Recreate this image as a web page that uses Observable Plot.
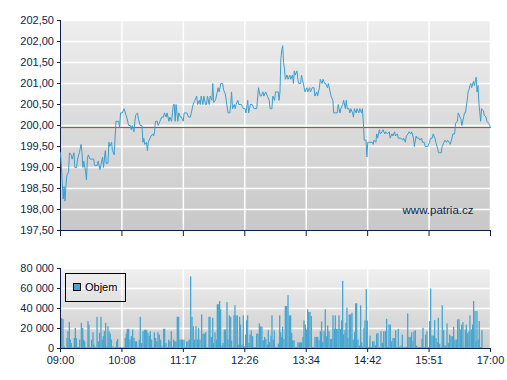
<!DOCTYPE html>
<html><head><meta charset="utf-8">
<script src="https://cdn.jsdelivr.net/npm/d3@7"></script>
<script src="https://cdn.jsdelivr.net/npm/@observablehq/plot@0.6"></script>
<style>
html,body{margin:0;padding:0;background:#fff;}
#wrap{position:relative;width:507px;height:380px;overflow:hidden;font-family:"Liberation Sans",Arial,sans-serif;}
#price{position:absolute;left:0;top:0;}
#vol{position:absolute;left:0;top:240px;}
#legend{position:absolute;left:65px;top:273px;width:61px;height:29px;border:1px solid #000;box-sizing:border-box;}
#legend .sw{position:absolute;left:7px;top:9px;width:8px;height:8px;background:#46a6d0;border:1px solid #000;box-sizing:border-box;}
#legend .lb{position:absolute;left:19px;top:7px;font-size:11px;line-height:13px;color:#000;}
</style></head>
<body><div id="wrap"><div id="price"></div><div id="vol"></div>
<div id="legend"><div class="sw"></div><div class="lb" id="legendLabel"></div></div></div>
<script>
// ---- data ----
const timeLabels = ["09:00","10:08","11:17","12:26","13:34","14:42","15:51","17:00"];
const priceTicks = [197.5,198,198.5,199,199.5,200,200.5,201,201.5,202,202.5];
const volTicks = [0,20000,40000,60000,80000];
const prevClose = 199.95;
const siteLabel = "www.patria.cz";
const legendLabel = "Objem";
// minutes after 09:00
const priceMin = [0,2,3,4,5,6,7,9,10,12,13,15,16,18,19,21,23,24,25,26,28,29,30,31,33,35,37,38,41,42,44,45,47,48,50,51,53,54,55,57,58,60,61,62,65,66,67,69,71,73,74,76,78,79,80,82,83,84,86,87,89,91,92,93,94,96,97,98,100,101,103,104,105,106,108,109,111,113,115,116,118,119,121,122,124,125,126,127,128,129,131,132,134,135,137,138,141,143,145,147,148,150,152,153,155,156,157,159,160,
162,163,164,166,167,169,170,171,173,174,176,177,178,179,181,182,184,185,187,189,190,191,192,194,195,196,198,199,202,204,206,207,209,210,212,214,216,219,221,223,224,226,227,229,231,233,234,236,237,239,240,243,244,245,246,247,248,249,250,251,253,254,256,257,259,260,261,262,264,265,266,268,269,270,272,273,275,276,278,279,281,283,284,286,287,289,290,292,293,295,296,298,299,301,302,304,305,307,309,310,312,313,315,316,318,319,320,
322,323,324,326,327,328,330,331,333,334,336,337,338,339,341,342,343,345,348,349,350,352,353,354,356,357,359,360,362,363,365,367,368,370,371,373,374,376,377,379,380,382,383,385,386,388,389,391,392,394,395,397,398,400,401,403,404,406,407,409,410,412,413,415,416,418,419,421,422,423,425,426,428,429,431,432,434,435,437,438,440,441,443,444,446,447,448,450,451,452,454,455,456,457,458,459,461,462,463,464,465,466,467,469,470,472,473,475,476,478,479,480];
const priceVal = [199.35,198.65,198.25,198.55,198.2,198.55,198.8,198.9,199.35,199.3,199.2,199.35,199.0,199.0,199.2,199.35,199.55,199.35,199.0,199.15,198.9,198.7,199.2,199.3,199.2,199.2,199.2,199.05,199.05,199.15,198.95,199.05,199.25,199.0,199.4,199.1,199.1,199.6,199.5,199.6,199.4,199.3,199.75,200.1,200.1,199.95,200.3,200.3,200.4,200.25,200.2,200.0,200.0,199.9,200.0,199.85,200.1,200.25,200.3,200.15,200.0,200.0,199.6,199.7,199.55,199.6,199.4,199.6,199.7,199.75,199.8,199.75,199.85,200.1,200.1,200.0,200.1,200.2,200.2,200.3,200.2,200.3,200.1,200.2,200.1,200.3,200.5,200.5,200.1,200.5,200.1,200.3,200.2,200.2,200.1,200.3,200.3,200.2,200.2,200.4,200.5,200.6,200.7,200.5,200.6,200.5,200.7,200.5,200.7,
200.5,200.5,200.7,200.5,200.7,200.6,201.0,200.55,200.6,200.7,200.9,200.8,200.9,201.0,201.0,200.85,200.75,200.6,200.3,200.3,200.5,200.8,200.4,200.5,200.4,200.5,200.6,200.5,200.5,200.4,200.4,200.3,200.6,200.3,200.5,200.5,200.4,200.4,200.9,200.7,200.7,200.8,200.7,200.8,200.7,200.6,200.4,200.4,200.7,200.6,200.8,200.8,200.6,200.8,201.6,201.8,201.9,201.5,201.35,201.1,201.2,201.1,201.2,201.1,201.2,201.0,201.3,201.2,201.3,201.1,201.0,201.0,201.2,201.1,200.9,200.8,200.9,200.8,200.9,200.8,200.9,200.9,200.7,200.8,200.7,200.9,201.1,201.0,201.1,201.0,201.0,200.9,201.0,200.8,200.7,200.6,200.3,200.3,200.3,200.5,200.3,200.4,200.5,200.6,200.4,200.6,200.4,
200.4,200.3,200.4,200.3,200.2,200.4,200.3,200.4,200.3,200.4,200.3,200.4,200.1,199.65,199.65,199.25,199.6,199.6,199.6,199.55,199.65,199.6,199.8,199.7,199.9,199.8,199.85,199.9,199.8,199.85,199.8,199.85,199.7,199.8,199.75,199.85,199.75,199.8,199.7,199.7,199.7,199.65,199.7,199.6,199.75,199.8,199.85,199.8,199.85,199.7,199.5,199.75,199.7,199.7,199.65,199.7,199.6,199.6,199.5,199.5,199.5,199.6,199.7,199.7,199.8,199.7,199.6,199.45,199.35,199.35,199.35,199.5,199.6,199.65,199.6,199.65,199.6,199.55,199.7,199.8,199.8,200.05,200.1,200.3,200.2,200.15,200.0,200.2,200.3,200.3,200.6,200.8,200.85,200.95,201.0,200.9,201.05,200.95,201.05,201.15,200.8,200.95,200.55,200.1,200.4,200.35,200.25,200.2,200.1,200.05,200.0,199.95];
const volMin = [1.1,2.6,4.1,7.1,8.2,9.7,10.8,11.9,13.8,15.3,16.4,17.5,19.0,20.1,21.2,23.1,24.6,25.7,26.8,28.3,30.5,31.6,33.1,34.6,36.1,37.2,39.1,40.6,42.0,43.5,45.0,46.5,47.6,48.7,50.2,51.7,52.8,54.0,55.4,56.6,58.4,61.0,62.5,63.6,65.1,66.6,68.5,70.7,72.2,73.3,74.4,75.9,77.4,78.9,80.4,81.9,83.4,84.8,86.3,87.8,88.9,90.4,91.9,93.4,94.5,96.0,97.5,99.0,100.1,101.6,103.1,104.6,106.0,107.5,108.6,110.1,111.6,113.1,115.0,116.1,117.6,119.1,120.6,122.0,123.5,125.0,126.1,127.3,128.7,130.2,131.7,133.2,134.7,136.2,137.7,139.2,140.7,142.1,143.6,145.1,146.6,148.1,149.6,151.1,152.6,154.0,155.5,
157.4,158.9,160.4,161.9,163.4,165.6,166.7,168.2,169.7,170.8,172.3,173.8,174.9,176.0,177.5,178.6,180.1,181.2,182.7,184.2,185.7,186.8,188.3,189.8,190.9,192.4,193.5,194.6,195.7,197.2,198.3,199.8,200.9,202.4,203.9,205.0,206.5,207.6,208.7,210.2,211.4,212.8,214.3,215.8,217.3,218.8,220.3,221.8,223.3,224.7,226.2,227.7,229.2,230.7,231.8,233.3,234.8,235.9,237.4,238.5,240.0,241.5,243.0,244.5,245.6,246.7,247.8,249.3,250.8,252.3,253.8,255.3,256.7,257.9,259.0,260.5,262.0,263.4,264.9,266.4,267.9,269.0,270.5,271.6,273.1,274.6,275.7,276.8,278.3,279.8,281.3,282.8,283.9,285.4,286.9,288.4,289.9,291.3,292.5,294.0,295.4,296.9,298.1,299.5,301.0,302.5,304.0,305.5,306.6,308.1,309.6,310.7,312.2,313.7,314.8,
315.9,317.4,318.5,319.6,320.7,322.2,323.7,325.2,326.7,328.2,329.3,330.4,331.9,333.4,334.9,336.0,337.5,338.6,339.7,341.2,342.3,343.8,345.3,346.8,348.3,349.8,351.3,352.7,354.2,355.7,357.6,359.1,360.6,362.4,363.9,365.0,366.5,368.0,369.5,371.0,372.5,374.0,375.4,376.9,378.4,379.9,381.4,382.9,384.4,385.9,387.4,388.8,390.3,391.8,393.3,394.4,395.9,397.4,398.9,400.4,401.9,403.4,404.5,406.0,407.4,408.9,410.4,411.9,413.0,414.5,416.0,417.5,419.0,420.5,421.6,423.1,424.9,426.0,427.5,429.0,430.1,431.3,432.7,434.2,435.7,437.2,438.7,440.2,441.7,443.2,444.7,446.1,447.6,449.1,450.2,451.7,452.8,454.3,455.8,456.9,458.4,459.9,461.0,462.5,463.6,464.7,466.2,467.3,468.8,470.3];
const volVal = [30000,29000,1500,10000,17000,26000,8400,5000,1000,10000,20000,10000,1000,1000,8400,25200,20000,8400,6700,1000,26900,23500,1000,8400,15800,3400,1000,31200,6700,15100,31200,8400,11800,16800,25200,1700,21800,16800,14400,8400,1700,1000,6700,9100,1000,1000,1000,1000,10000,14400,19200,19200,8400,11800,18500,10000,6700,6700,1000,8400,31200,5000,16800,17800,18500,17800,15100,12400,16800,8400,1000,15800,10000,6700,15800,13400,8400,1700,19200,19200,5000,1000,8400,6700,16800,1000,8400,6700,6700,31200,31200,8400,8400,8400,8400,1000,6700,6700,8400,71600,31200,21800,8400,21800,8400,20200,8400,
33600,14400,14400,15800,1000,31200,31200,11100,30200,5000,15800,8400,43700,43700,47000,38600,2400,5000,18500,18500,46000,8400,32600,31200,7400,1000,32600,42700,32600,32600,3400,31200,23500,3400,32600,1700,13400,27600,32600,5000,13400,17500,11800,1000,1000,14400,14400,24500,21800,21200,7700,11100,9100,3400,17800,5700,12400,32600,8400,17500,1000,1000,4400,32600,15800,11100,21200,9100,42000,42000,52800,32600,32600,15100,7700,7700,1000,1000,5700,5700,5700,5700,11100,27600,23500,18500,38600,36000,36000,31900,1000,1000,11100,11100,11100,7700,16800,26500,5700,16800,38600,11800,22500,16800,9100,9100,32600,19200,32600,19200,19200,32600,19200,27600,67200,
13400,17800,25200,40300,10000,33600,33600,35300,8400,15800,44700,44700,8400,2400,42700,5700,1700,20200,27600,58800,27600,1000,12400,1000,6700,6700,2400,14400,15100,1000,16800,5000,16800,16800,29200,1000,23500,23500,6700,10000,10000,17800,1000,19200,1000,2400,13400,1000,1000,1000,34600,11100,11100,15800,6700,16800,17800,2400,1000,1000,1000,9100,20200,1000,13400,16800,1000,26900,59500,12400,12400,27900,10000,5700,30200,4400,1000,42700,17800,2400,2400,24500,5000,13400,11800,11800,21200,8400,8400,28600,28600,18500,23500,25900,1000,18500,23500,15100,16800,32600,18500,23500,47000,37000,6700,37000,8400,26900,1000,17800];

// ---- styles ----
const navy = "#0c1f4a";
const lineColor = "#3a9ed0";
const barColor = "#46a6d0";
const refColor = "#c0392b";
const font = "'Liberation Sans', Arial, sans-serif";
const barWidth = 1.45;

const loc = d3.formatLocale({decimal: ",", thousands: " ", grouping: [3], currency: ["", ""]});
const fmtPrice = loc.format(".2f");
const fmtVol = loc.format(",d");
const xTicks = timeLabels.map((_, i) => i * 480 / (timeLabels.length - 1));
const fmtTime = d => timeLabels[Math.round(d * (timeLabels.length - 1) / 480)];

const priceData = priceMin.map((m, i) => ({m, v: priceVal[i]}));
const volData = volMin.map((m, i) => ({m, v: volVal[i]}));

function addGradient(svg, id, top, bottom) {
  d3.select(svg).insert("defs", ":first-child").html(
    `<linearGradient id="${id}" x1="0" y1="0" x2="0" y2="1"><stop offset="0" stop-color="${top}"/><stop offset="1" stop-color="${bottom}"/></linearGradient>`);
}

const white = {stroke: "#fff", strokeOpacity: 1, strokeWidth: 1.5};

const pricePlot = Plot.plot({
  width: 507, height: 240,
  marginTop: 20, marginBottom: 10, marginLeft: 60, marginRight: 17,
  style: {fontFamily: font, fontSize: "11px", color: navy, background: "transparent", overflow: "visible"},
  x: {domain: [0, 480]},
  y: {domain: [197.5, 202.5]},
  marks: [
    Plot.frame({fill: "url(#bgPrice)", stroke: "none"}),
    Plot.gridY(priceTicks.slice(1), white),
    Plot.gridX(xTicks.slice(1), white),
    Plot.axisY(priceTicks, {tickSize: 3, tickPadding: 3.5, tickFormat: fmtPrice, color: navy, fontSize: 11, label: null}),
    Plot.axisX(xTicks, {tickSize: 6, tickFormat: () => "", color: navy, label: null}),
    Plot.ruleX([0], {stroke: navy}),
    Plot.ruleY([197.5], {stroke: navy}),
    Plot.text([siteLabel], {frameAnchor: "bottom-right", dx: -17, dy: -17, textAnchor: "end", fill: navy, fontSize: 11.5}),
    Plot.ruleY([prevClose], {stroke: refColor, strokeWidth: 1}),
    Plot.line(priceData, {x: "m", y: "v", stroke: lineColor, strokeWidth: 1})
  ]
});
addGradient(pricePlot, "bgPrice", "#eeeeee", "#c8c8c8");
document.getElementById("price").appendChild(pricePlot);

const volPlot = Plot.plot({
  width: 507, height: 140,
  marginTop: 28, marginBottom: 32, marginLeft: 60, marginRight: 17,
  style: {fontFamily: font, fontSize: "11px", color: navy, background: "transparent", overflow: "visible"},
  x: {domain: [0, 480]},
  y: {domain: [0, 80000]},
  marks: [
    Plot.frame({fill: "url(#bgVol)", stroke: "none"}),
    Plot.gridY(volTicks.slice(1), white),
    Plot.gridX(xTicks.slice(1), white),
    Plot.rectY(volData, {x1: "m", x2: d => d.m + barWidth, y: "v", fill: barColor}),
    Plot.axisY(volTicks, {tickSize: 3, tickPadding: 3.5, tickFormat: fmtVol, color: navy, fontSize: 11, label: null}),
    Plot.axisX(xTicks, {tickSize: 4, tickPadding: 4, tickFormat: fmtTime, color: navy, fontSize: 11, label: null}),
    Plot.ruleX([0], {stroke: navy}),
    Plot.ruleY([0], {stroke: navy})
  ]
});
addGradient(volPlot, "bgVol", "#f0f0f0", "#cccccc");
document.getElementById("vol").appendChild(volPlot);
document.getElementById("legendLabel").textContent = legendLabel;
</script>
</body></html>
